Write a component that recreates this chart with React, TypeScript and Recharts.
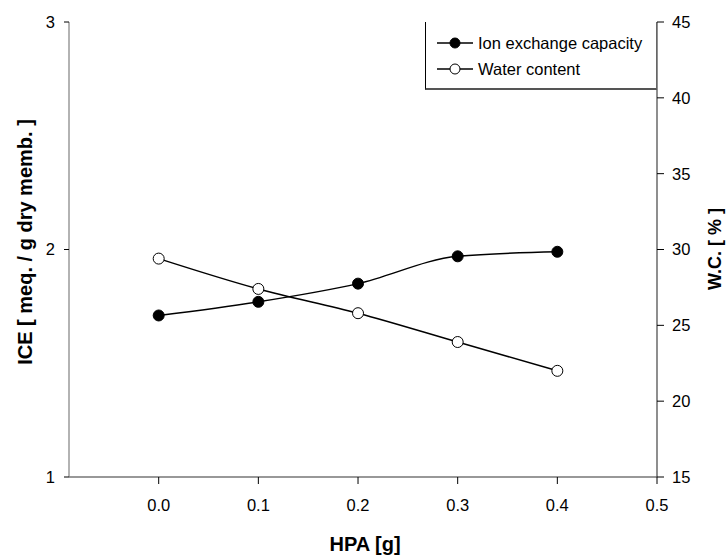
import React from 'react';
import { LineChart, Line, XAxis, YAxis, Legend } from 'recharts';

const hpa = [0, 0.1, 0.2, 0.3, 0.4];
const ice = [1.71, 1.77, 1.85, 1.97, 1.99];
const waterContent = [29.4, 27.4, 25.8, 23.9, 22.0];
const xTicks = [0, 0.1, 0.2, 0.3, 0.4, 0.5];
const iceTicks = [1, 2, 3];
const wcTicks = [15, 20, 25, 30, 35, 40, 45];
const seriesNames = ['Ion exchange capacity', 'Water content'];
const xTitle = 'HPA [g]';
const leftTitle = 'ICE [ meq. / g dry memb. ]';
const rightTitle = 'W.C. [ % ]';

const data = hpa.map((x, i) => ({ hpa: x, ice: ice[i], wc: waterContent[i] }));

const FONT = "'Liberation Sans', Arial, Helvetica, sans-serif";
const NARROW = "'Liberation Sans Narrow', 'Arial Narrow', 'Liberation Sans', Arial, sans-serif";
const TICK_FS = 16.5;

const XTick = (props: any) => {
  const { x, y, payload } = props;
  return (
    <text x={x} y={y} dy="0.71em" textAnchor="middle" fontFamily={FONT} fontSize={TICK_FS} fill="#000">
      {Number(payload.value).toFixed(1)}
    </text>
  );
};

const LeftTick = (props: any) => {
  const { x, y, payload } = props;
  return (
    <text x={x} y={y} dy="0.355em" textAnchor="end" fontFamily={FONT} fontSize={TICK_FS} fill="#000">
      {payload.value}
    </text>
  );
};

const RightTick = (props: any) => {
  const { x, y, payload } = props;
  return (
    <text x={x} y={y} dy="0.355em" textAnchor="start" fontFamily={FONT} fontSize={TICK_FS} fill="#000">
      {payload.value}
    </text>
  );
};

const LegendBox = () => (
  <div
    style={{
      position: 'relative',
      width: 232,
      height: 68,
      boxSizing: 'border-box',
      borderLeft: '1px solid #000',
      borderRight: '1px solid #666',
      borderBottom: '2px solid #555',
      background: '#fff',
      fontFamily: FONT,
      fontSize: 16.5,
      color: '#000',
    }}
  >
    {seriesNames.map((name, i) => (
      <div key={name} style={{ position: 'absolute', left: 0, top: i === 0 ? 12 : 38, height: 18, width: 230 }}>
        <svg width={50} height={18} style={{ position: 'absolute', left: 9, top: 0 }}>
          <line x1={2} y1={9} x2={38} y2={9} stroke="#000" strokeWidth={1.3} />
          <circle cx={20} cy={9} r={5} fill={i === 0 ? '#000' : '#fff'} stroke="#000" strokeWidth={1} />
        </svg>
        <span style={{ position: 'absolute', left: 52, top: 0, lineHeight: '18px', whiteSpace: 'nowrap' }}>{name}</span>
      </div>
    ))}
  </div>
);

export default function App() {
  return (
    <div style={{ position: 'fixed', left: 0, top: 0, width: 726, height: 556, background: '#fff' }}>
      <LineChart width={726} height={556} data={data} margin={{ top: 22, right: 0, bottom: 0, left: 0 }}>
        <XAxis
          xAxisId="bottom"
          dataKey="hpa"
          type="number"
          domain={[-0.09, 0.5]}
          allowDataOverflow
          ticks={xTicks}
          height={79}
          tickSize={7}
          tickMargin={15}
          tick={<XTick />}
          axisLine={{ stroke: '#333', strokeWidth: 1.2 }}
          tickLine={{ stroke: '#000' }}
          label={() => (
            <text x={365} y={551} textAnchor="middle" fontFamily={NARROW} fontWeight="bold" fontSize={20} fill="#000">
              {xTitle}
            </text>
          )}
        />
        <XAxis
          xAxisId="top"
          dataKey="hpa"
          type="number"
          orientation="top"
          domain={[-0.09, 0.5]}
          allowDataOverflow
          height={0}
          tick={false}
          tickLine={false}
          axisLine={{ stroke: '#000', strokeWidth: 1.2 }}
        />
        <YAxis
          yAxisId="left"
          domain={[1, 3]}
          ticks={iceTicks}
          width={69}
          tickSize={5}
          tickMargin={9}
          tick={<LeftTick />}
          axisLine={{ stroke: '#808080', strokeWidth: 1.2 }}
          tickLine={{ stroke: '#000' }}
          label={() => (
            <text
              x={25}
              y={242}
              transform="rotate(-90 25 242)"
              textAnchor="middle"
              dominantBaseline="central"
              fontFamily={FONT}
              fontWeight="bold"
              fontSize={20}
              fill="#000"
            >
              {leftTitle}
            </text>
          )}
        />
        <YAxis
          yAxisId="right"
          orientation="right"
          domain={[15, 45]}
          ticks={wcTicks}
          width={69}
          tickSize={7}
          tickMargin={8}
          tick={<RightTick />}
          axisLine={{ stroke: '#444', strokeWidth: 1.2 }}
          tickLine={{ stroke: '#000' }}
          label={() => (
            <text
              x={715}
              y={249}
              transform="rotate(-90 715 249)"
              textAnchor="middle"
              dominantBaseline="central"
              fontFamily={FONT}
              fontWeight="bold"
              fontSize={18}
              fill="#000"
            >
              {rightTitle}
            </text>
          )}
        />
        <Legend
          layout="vertical"
          align="center"
          verticalAlign="middle"
          content={() => <LegendBox />}
          wrapperStyle={{ position: 'absolute', left: 425, top: 22, width: 232, height: 68 }}
        />
        <Line
          xAxisId="bottom"
          yAxisId="left"
          dataKey="ice"
          name={seriesNames[0]}
          type="monotone"
          stroke="#000"
          strokeWidth={1.5}
          dot={{ r: 5.5, fill: '#000', stroke: '#000', strokeWidth: 1 }}
          activeDot={false}
          isAnimationActive={false}
        />
        <Line
          xAxisId="bottom"
          yAxisId="right"
          dataKey="wc"
          name={seriesNames[1]}
          type="monotone"
          stroke="#000"
          strokeWidth={1.5}
          dot={{ r: 5.5, fill: '#fff', stroke: '#000', strokeWidth: 1 }}
          activeDot={false}
          isAnimationActive={false}
        />
      </LineChart>
    </div>
  );
}
